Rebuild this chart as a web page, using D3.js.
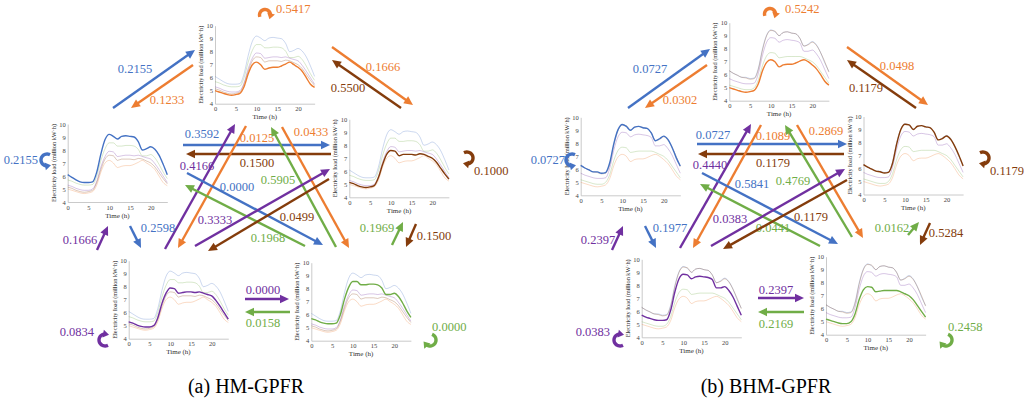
<!DOCTYPE html>
<html><head><meta charset="utf-8">
<script src="https://cdn.jsdelivr.net/npm/d3@7"></script>
<style>body{margin:0;background:#fff}svg{display:block}text{font-family:"Liberation Serif","Times New Roman",serif}</style>
</head><body><svg id="c" width="1024" height="404"></svg>
<script>
// ---------------- DATA ----------------
const hours = d3.range(0, 25);
const states = ["T", "L", "R", "BL", "BR"];
const stateColor = {T: "#ED7D31", L: "#4472C4", R: "#843C0C", BL: "#7030A0", BR: "#70AD47"};
const panelTitles = ["(a) HM-GPFR", "(b) BHM-GPFR"];
const yTicks = [4, 5, 6, 7, 8, 9, 10];
const xTicks = [0, 5, 10, 15, 20];

// HM-GPFR cluster mean curves (million kW·h), hours 0..24
const hmL  = [6.1,5.9,5.7,5.55,5.5,5.5,5.55,6.3,7.7,8.8,9.2,9.05,8.85,9.05,9.1,9.05,9.0,8.65,8.0,8.1,8.25,8.05,7.6,6.9,6.1];
const hmBR = [5.7,5.6,5.45,5.35,5.3,5.3,5.35,6.0,7.2,8.1,8.55,8.55,8.3,8.3,8.35,8.35,8.3,8.05,7.55,7.55,7.65,7.4,6.9,6.3,5.8];
const hmBL = [5.3,5.2,5.05,4.95,4.9,4.9,5.0,5.6,6.7,7.5,7.9,7.85,7.5,7.55,7.6,7.6,7.55,7.6,7.5,7.4,7.3,6.95,6.5,6.0,5.5];
const hmR  = [5.15,5.05,4.9,4.8,4.75,4.8,4.9,5.5,6.5,7.3,7.6,7.55,7.2,7.3,7.3,7.3,7.25,7.35,7.3,7.15,7.0,6.7,6.25,5.8,5.4];
const hmT  = [5.0,4.9,4.8,4.7,4.65,4.7,4.8,5.3,6.3,7.0,7.2,7.0,6.65,6.75,6.8,6.8,6.9,7.05,7.2,7.0,6.8,6.5,6.0,5.5,5.25];
// BHM-GPFR
const bhmR  = [6.3,6.1,5.95,5.8,5.75,5.65,5.7,6.4,7.9,9.0,9.4,9.35,9.0,9.25,9.3,9.2,9.15,8.8,8.2,8.3,8.5,8.25,7.7,7.0,6.2];
const bhmL  = [6.3,6.1,5.95,5.8,5.8,5.7,5.75,6.5,8.0,9.05,9.45,9.3,9.0,9.25,9.3,9.2,9.15,8.8,8.2,8.35,8.55,8.3,7.7,6.9,6.25];
const bhmBL = [5.7,5.55,5.45,5.35,5.3,5.3,5.35,6.1,7.5,8.5,8.85,8.8,8.5,8.65,8.7,8.65,8.6,8.45,7.8,7.8,7.9,7.6,7.1,6.4,5.7];
const bhmBR = [5.2,5.1,5.0,4.9,4.85,4.85,5.0,5.6,6.7,7.45,7.7,7.65,7.3,7.35,7.4,7.4,7.4,7.4,7.3,7.15,7.0,6.7,6.25,5.8,5.35];
const bhmT  = [5.0,4.9,4.8,4.7,4.65,4.7,4.8,5.3,6.3,6.95,7.15,7.0,6.6,6.75,6.8,6.8,6.9,7.05,7.15,7.0,6.75,6.45,6.0,5.5,5.2];

// transition probabilities [from, to, value]
const hmTrans = [
  ["T","T",0.5417],["L","L",0.2155],["R","R",0.1000],["BL","BL",0.0834],["BR","BR",0.0000],
  ["L","T",0.2155],["T","L",0.1233],["T","R",0.1666],["R","T",0.5500],
  ["L","R",0.3592],["R","L",0.1500],["BL","T",0.4166],["T","BL",0.0125],
  ["BR","T",0.5905],["T","BR",0.0433],["L","BR",0.0000],["BR","L",0.1968],
  ["BL","R",0.3333],["R","BL",0.0499],["BR","R",0.1969],["R","BR",0.1500],
  ["BL","L",0.1666],["L","BL",0.2598],["BL","BR",0.0000],["BR","BL",0.0158]
];
const bhmTrans = [
  ["T","T",0.5242],["L","L",0.0727],["R","R",0.1179],["BL","BL",0.0383],["BR","BR",0.2458],
  ["L","T",0.0727],["T","L",0.0302],["T","R",0.0498],["R","T",0.1179],
  ["L","R",0.0727],["R","L",0.1179],["BL","T",0.4440],["T","BL",0.1089],
  ["BR","T",0.4769],["T","BR",0.2869],["L","BR",0.5841],["BR","L",0.0441],
  ["BL","R",0.0383],["R","BL",0.1179],["BR","R",0.0162],["R","BR",0.5284],
  ["BL","L",0.2397],["L","BL",0.1977],["BL","BR",0.2397],["BR","BL",0.2169]
];

// ---------------- LAYOUT ----------------
const panels = [
  {curves: {L: hmL, BR: hmBR, BL: hmBL, R: hmR, T: hmT}, order: ["L","BR","BL","R","T"], trans: hmTrans,
   charts: {T: [215, 25.7], L: [67.7, 124], R: [349.3, 119.3], BL: [128.7, 260.7], BR: [311.3, 262.7]},
   title: [246, 393],
   arrows: {
     "L-T": [113,108,195,50, 135,69], "T-L": [193,65,131,108, 167,100],
     "T-R": [332,47,413,105, 383,67], "R-T": [401,108,332,60, 348,88],
     "L-R": [183,145,330,145, 202,134], "R-L": [331,154,186,154, 257,163],
     "BL-T": [165,249,235,124, 197,166], "T-BL": [246,126,178,248, 257,138],
     "BR-T": [336,247,271,127, 278,180], "T-BR": [282,127,349,248, 311,132],
     "L-BR": [187,173,323,245, 237,187], "BR-L": [305,246,185,185, 268,238],
     "BL-R": [195,246,330,169, 215,220], "R-BL": [329,179,208,251, 297,217],
     "BR-R": [392,245,403,222, 377,228], "R-BR": [416,224,406,247, 434,236],
     "BL-L": [97,250,108,226, 80,240], "L-BL": [130,226,141,248, 158,228],
     "BL-BR": [245,299,289,299, 263,290], "BR-BL": [290,312,245,312, 263,323]
   },
   loops: {
     T: [265,15,5.5,160,385, 276,9,"start"], L: [47,160,6,300,70, 38,160,"end"],
     R: [467,158,6,240,470, 474,171,"start"], BL: [105,340,6,60,290, 94,332,"end"],
     BR: [430,340,6,290,510, 432,327,"start"]
   }},
  {curves: {L: bhmL, BR: bhmBR, BL: bhmBL, R: bhmR, T: bhmT}, order: ["T","BR","BL","L","R"], trans: bhmTrans,
   charts: {T: [729.3, 22.7], L: [580.7, 117.3], R: [863.5, 116.5], BL: [641.7, 259.3], BR: [826, 256.7]},
   title: [766, 393],
   arrows: {
     "L-T": [628,108,710,49, 650,69], "T-L": [707,65,645,108, 680,100],
     "T-R": [847,47,928,105, 897,66], "R-T": [916,108,847,60, 866,88],
     "L-R": [697,144,847,144, 713,135], "R-L": [844,154,698,154, 773,163],
     "BL-T": [680,248,751,124, 710,165], "T-BL": [761,125,693,248, 773,136],
     "BR-T": [852,237,785,125, 793,181], "T-BR": [797,125,863,238, 826,131],
     "L-BR": [702,173,838,244, 752,184], "BR-L": [820,246,700,184, 773,228],
     "BL-R": [711,246,845,169, 730,219], "R-BL": [847,180,723,249, 811,217],
     "BR-R": [908,235,919,222, 892,228], "R-BR": [930,223,920,245, 946,233],
     "BL-L": [612,250,623,226, 598,240], "L-BL": [645,226,656,248, 670,228],
     "BL-BR": [758,298,804,298, 776,290], "BR-BL": [804,312,758,312, 776,324]
   },
   loops: {
     T: [770,14,5.5,160,385, 785,9,"start"], L: [572,160,6,300,70, 565,160,"end"],
     R: [983,158,6,240,470, 990,171,"start"], BL: [620,340,6,60,290, 610,332,"end"],
     BR: [946,340,6,290,510, 948,327,"start"]
   }}
];

// ---------------- DRAW ----------------
const svg = d3.select("#c");
const PW = 99.6, PH = 78;
const fmt = d3.format(".4f");

function mini(g, x0, y0, curves, order, hi) {
  const x = d3.scaleLinear().domain([0, 24]).range([x0, x0 + PW]);
  const y = d3.scaleLinear().domain([4, 10]).range([y0 + PH, y0]);
  const gg = g.append("g");
  const ax = gg.append("g").attr("transform", `translate(0,${y0 + PH})`)
    .call(d3.axisBottom(x).tickValues(xTicks).tickFormat(d3.format("d")).tickSize(0).tickPadding(3));
  const ay = gg.append("g").attr("transform", `translate(${x0},0)`)
    .call(d3.axisLeft(y).tickValues(yTicks).tickFormat(d3.format("d")).tickSize(0).tickPadding(2));
  [ax, ay].forEach(a => {
    a.select(".domain").attr("stroke", "#bdbdbd").attr("stroke-width", 0.8);
    a.selectAll("text").attr("font-size", 6.5).attr("fill", "#444").attr("font-family", "Liberation Serif");
  });
  gg.append("text").attr("transform", `translate(${x0 - 12},${y0 + PH / 2}) rotate(-90)`)
    .attr("text-anchor", "middle").attr("font-size", 6.6).attr("fill", "#333")
    .attr("textLength", PH).attr("lengthAdjust", "spacingAndGlyphs")
    .text("Electricity load (million kW·h)");
  gg.append("text").attr("x", x0 + PW / 2).attr("y", y0 + PH + 15.5)
    .attr("text-anchor", "middle").attr("font-size", 7).attr("fill", "#333").text("Time (h)");
  const line = d3.line().x((d, i) => x(hours[i])).y(d => y(d)).curve(d3.curveMonotoneX);
  order.filter(k => k !== hi).forEach(k => {
    gg.append("path").attr("d", line(curves[k])).attr("fill", "none")
      .attr("stroke", stateColor[k]).attr("stroke-opacity", 0.35).attr("stroke-width", 0.8);
  });
  gg.append("path").attr("d", line(curves[hi])).attr("fill", "none")
    .attr("stroke", stateColor[hi]).attr("stroke-width", 1.4);
}

function head(g, tx, ty, ux, uy, color, len, hw) {
  const bx = tx - ux * len, by = ty - uy * len;
  const nx = -uy, ny = ux;
  g.append("path").attr("d", `M${tx},${ty}L${bx + nx * hw},${by + ny * hw}L${bx - nx * hw},${by - ny * hw}Z`)
    .attr("fill", color);
}

function arrow(g, a, color, val) {
  const [x1, y1, x2, y2, lx, ly] = a;
  const L = Math.hypot(x2 - x1, y2 - y1), ux = (x2 - x1) / L, uy = (y2 - y1) / L;
  g.append("line").attr("x1", x1).attr("y1", y1).attr("x2", x2 - ux * 6).attr("y2", y2 - uy * 6)
    .attr("stroke", color).attr("stroke-width", 2.4);
  head(g, x2, y2, ux, uy, color, 9, 4.2);
  g.append("text").attr("x", lx).attr("y", ly).attr("dy", "0.35em").attr("text-anchor", "middle")
    .attr("font-size", 12.5).attr("fill", color).text(fmt(val));
}

function loop(g, l, color, val) {
  const [cx, cy, r, a0, a1, lx, ly, anchor] = l;
  const n = 24, pts = d3.range(n + 1).map(i => {
    const a = (a0 + (a1 - a0) * i / n) * Math.PI / 180;
    return [cx + r * Math.cos(a), cy + r * Math.sin(a)];
  });
  const p = pts[n], q = pts[n - 2];
  const L = Math.hypot(p[0] - q[0], p[1] - q[1]), ux = (p[0] - q[0]) / L, uy = (p[1] - q[1]) / L;
  g.append("path").attr("d", d3.line()(pts.slice(0, n - 1))).attr("fill", "none")
    .attr("stroke", color).attr("stroke-width", 3.4);
  head(g, p[0] + ux * 2, p[1] + uy * 2, ux, uy, color, 6, 4);
  g.append("text").attr("x", lx).attr("y", ly).attr("dy", "0.35em").attr("text-anchor", anchor)
    .attr("font-size", 12.5).attr("fill", color).text(fmt(val));
}

panels.forEach((P, pi) => {
  const g = svg.append("g");
  states.forEach(s => {
    const [x0, y0] = P.charts[s];
    mini(g, x0, y0, P.curves, P.order, s);
  });
  P.trans.forEach(([f, t, v]) => {
    const col = stateColor[f];
    if (f === t) loop(g, P.loops[f], col, v);
    else arrow(g, P.arrows[f + "-" + t], col, v);
  });
  g.append("text").attr("x", P.title[0]).attr("y", P.title[1]).attr("text-anchor", "middle")
    .attr("font-size", 20).attr("fill", "#000").text(panelTitles[pi]);
});
</script></body></html>
